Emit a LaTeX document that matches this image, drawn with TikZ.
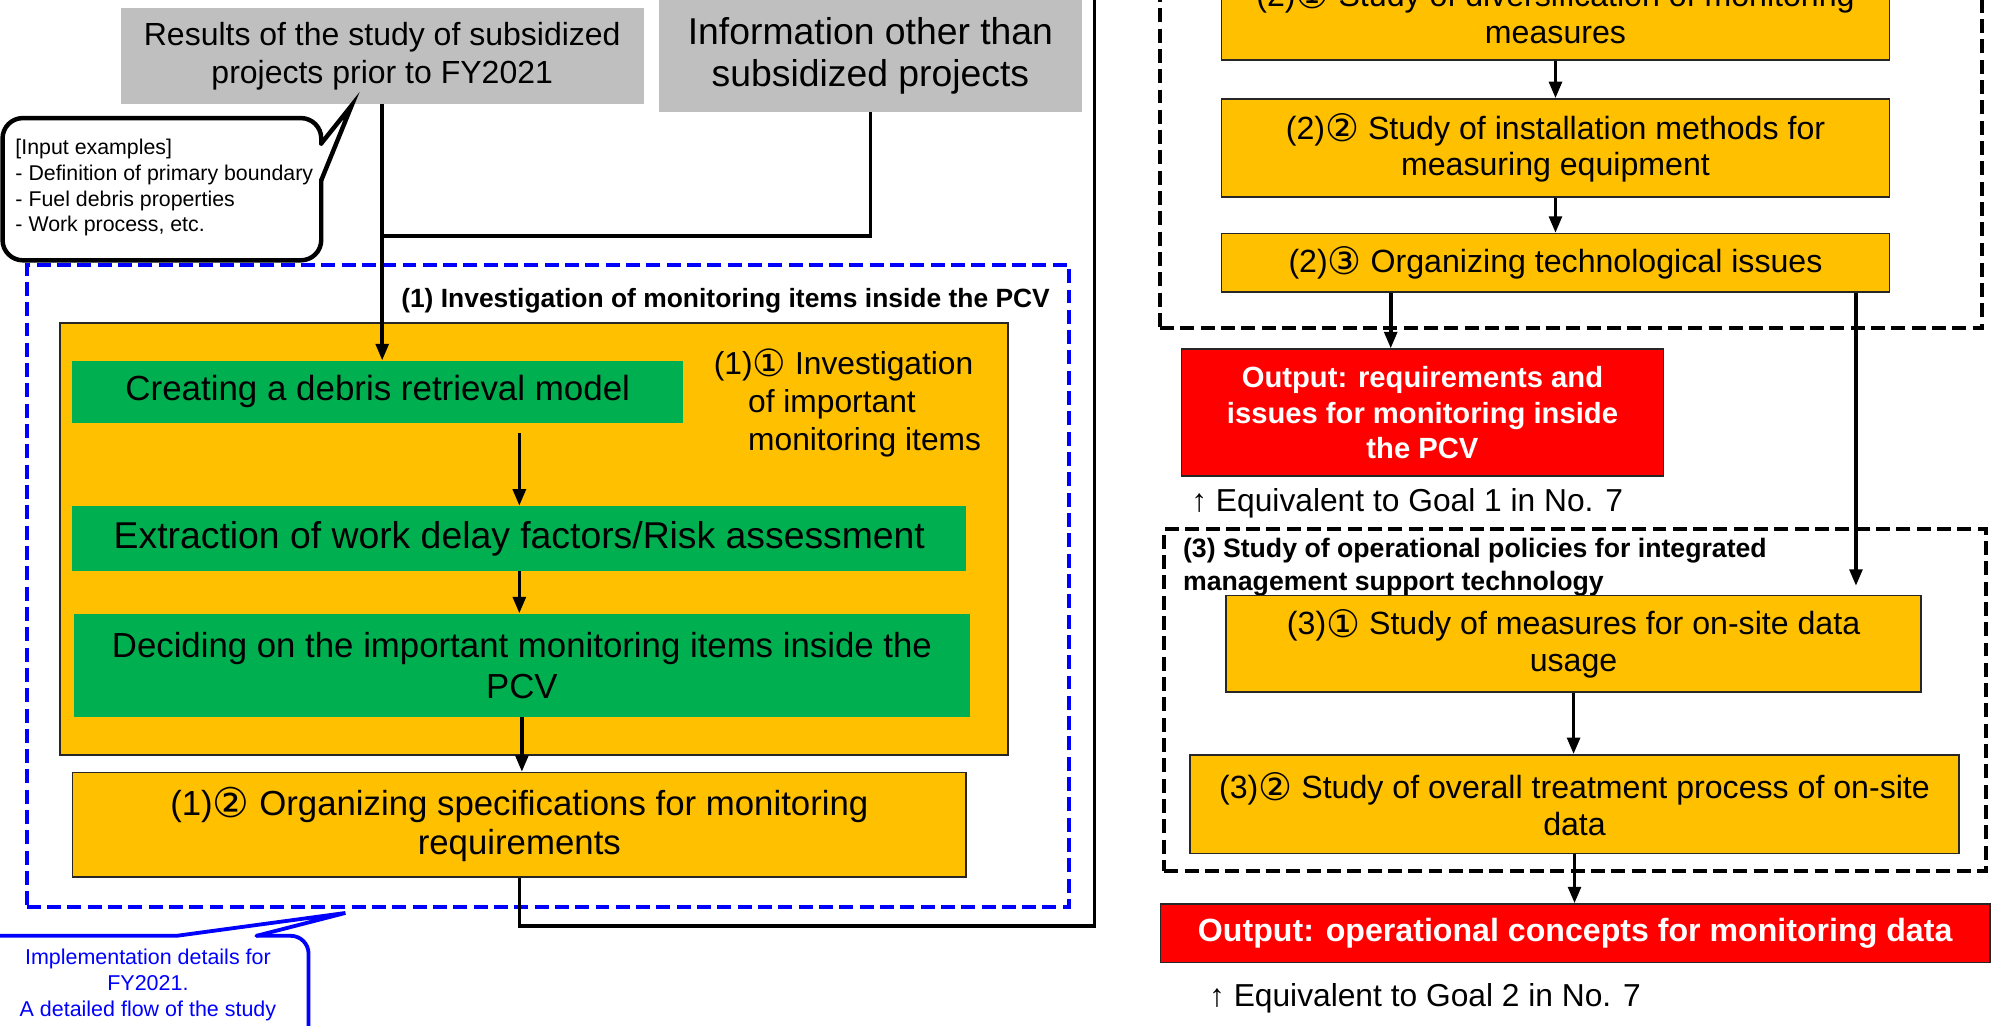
\documentclass[tikz,border=0pt]{standalone}
\usepackage{fontspec}
\setmainfont{Liberation Sans}
\newfontfamily\symfont{DejaVu Sans}
\usetikzlibrary{arrows.meta}
\newcommand\cnum[1]{{\symfont\raisebox{-0.07em}{\scalebox{1.18}{#1}}}}
\definecolor{boxorange}{HTML}{FFC000}
\definecolor{boxgreen}{HTML}{00B050}
\definecolor{boxgrey}{HTML}{BFBFBF}
\definecolor{boxred}{HTML}{FF0000}
\definecolor{calloutblue}{HTML}{0000FF}
\begin{document}
\begin{tikzpicture}[x=1pt,y=-1pt,
  base/.style={inner sep=0pt, align=center, text=black},
  sz/.style 2 args={minimum width=#1, minimum height=#2},
  fsz/.style 2 args={font=\fontsize{#1}{#2}\selectfont},
  bsz/.style 2 args={font=\fontsize{#1}{#2}\selectfont\bfseries},
  orangebox/.style={base, draw=black!85, line width=1.3pt, fill=boxorange},
  greenbox/.style={base, fill=boxgreen},
  greybox/.style={base, fill=boxgrey},
  redbox/.style={base, draw=black!85, line width=1.3pt, fill=boxred, text=white},
  link/.style={line width=2.8pt, black},
  arr/.style={link, -{Triangle[length=13pt,width=10pt]}},
  blackframe/.style={draw=black, line width=3pt, dash pattern=on 11pt off 5pt, inner sep=0pt},
  blueframe/.style={draw=calloutblue, line width=3pt, dash pattern=on 11pt off 5pt, inner sep=0pt},
]
\useasboundingbox (0,0) rectangle (1568,808);
\clip (0,0) rectangle (1568,808);
\fill[white] (0,0) rectangle (1568,808);

% ---------- left column: inputs ----------
\node[greybox, sz={412pt}{76pt}, fsz={25.2}{30}] (res) at (301,44)
  {Results of the study of subsidized\\projects prior to FY2021};
\node[greybox, sz={333pt}{88pt}, fsz={29.4}{33.5}] (info) at (685.5,44)
  {Information other than\\subsidized projects};

% speech bubble with input examples
\draw[line width=3.5pt, rounded corners=16pt, line cap=round]
  (253,113) -- (253,93) -- (2,93) -- (2,205) -- (253,205) -- (253,142);
\draw[line width=3.5pt, line join=miter, line cap=round]
  (253,113) -- (277,83) -- (253,142);
\node[anchor=west, align=left, inner sep=0pt, fsz={16.8}{20.2}] (inex) at (12,148)
  {[Input examples]\\- Definition of primary boundary\\- Fuel debris properties\\- Work process, etc.};

% ---------- block (1) ----------
\node[blueframe, sz={821pt}{505pt}] (grp1) at (431.5,461.5) {};
\node[anchor=east, inner sep=0pt, bsz={20.8}{25}] (t1) at (827,237)
  {(1) Investigation of monitoring items inside the PCV};
\node[orangebox, sz={747pt}{340pt}] (p11) at (420.5,424.5) {};
\node[anchor=west, align=left, inner sep=0pt, fsz={25}{30}] (lab11) at (589,317.5)
  {\hspace*{-27pt}(1)\cnum{①} Investigation\\of important\\monitoring items};
\node[greenbox, sz={481pt}{49pt}, fsz={27.5}{32}] (g1) at (297.5,308.5)
  {\raisebox{-3pt}{Creating a debris retrieval model}};
\node[greenbox, sz={704pt}{51pt}, fsz={29.4}{34}] (g2) at (409,424)
  {\raisebox{-2pt}{Extraction of work delay factors/Risk assessment}};
\node[greenbox, sz={706pt}{81.5pt}, fsz={27.4}{32}] (g3) at (411,524)
  {Deciding on the important monitoring items inside the\\PCV};
\node[orangebox, sz={704pt}{82pt}, fsz={27.4}{31}] (p12) at (409,649.5)
  {(1)\cnum{②} Organizing specifications for monitoring\\requirements};

% connectors of the left column
\draw[link] (info.south) -- (info.south |- 0,186) -- (res.south |- 0,186);
\draw[link] (res.south) -- (res.south |- 0,186);
\draw[arr] (res.south |- 0,186) -- (res.south |- g1.north);
\draw[arr] ([yshift=-8pt]g1.south -| g2.north) -- (g2.north);
\draw[arr] (g2.south) -- (g2.south |- g3.north);
\draw[arr] (g3.south) -- (g3.south |- p12.north);
\coordinate (ret) at (862,-20);
\draw[link, line join=miter] (p12.south) -- ++(0,38) -| (ret);

% callout below block (1)
\draw[calloutblue, line width=3pt, line join=miter, line cap=round]
  (-10,737) -- (139,737) -- (272,719) -- (202,737);
\draw[calloutblue, line width=3pt, rounded corners=14pt, line cap=round]
  (202,737) -- (243,737) -- (243,840);
\node[text=calloutblue, align=center, inner sep=0pt, fsz={16.9}{20.3}] (impl) at (116.5,775.5)
  {Implementation details for\\FY2021.\\A detailed flow of the study};

% ---------- block (2) ----------
\node[blackframe, sz={647.5pt}{270.5pt}] (grp2) at (1237.25,123.25) {};
\node[orangebox, sz={526pt}{75pt}, fsz={25.3}{29}] (n21) at (1225,9.5)
  {(2)\cnum{①} Study of diversification of monitoring\\measures};
\node[orangebox, sz={526pt}{77pt}, fsz={25.3}{29}] (n22) at (1225,116.5)
  {(2)\cnum{②} Study of installation methods for\\measuring equipment};
\node[orangebox, sz={526pt}{46pt}, fsz={25.3}{29}] (n23) at (1225,207)
  {(2)\cnum{③} Organizing technological issues};
\draw[arr] (n21.south) -- (n22.north);
\draw[arr] (n22.south) -- (n23.north);

\node[redbox, sz={379.5pt}{100pt}, bsz={23}{28}] (out1) at (1120.25,325)
  {Output: requirements and\\issues for monitoring inside\\the PCV};
\node[anchor=west, inner sep=0pt, fsz={25}{30}] (eq1) at (938,396)
  {↑ Equivalent to Goal 1 in No. 7};

% ---------- block (3) ----------
\node[blackframe, sz={647pt}{269.4pt}] (grp3) at (1240.5,551.3) {};
\node[anchor=west, align=left, inner sep=0pt, bsz={21}{26}] (t3) at (931.5,447)
  {(3) Study of operational policies for integrated\\management support technology};
\node[orangebox, sz={547.5pt}{76pt}, fsz={25.3}{29}] (n31) at (1239.25,507)
  {(3)\cnum{①} Study of measures for on-site data\\usage};
\node[orangebox, sz={606pt}{77.5pt}, fsz={25.3}{29}] (n32) at (1240,633.3)
  {(3)\cnum{②} Study of overall treatment process of on-site\\data};
\node[redbox, sz={653pt}{46pt}, bsz={25.3}{30}] (out2) at (1240.5,735)
  {Output: operational concepts for monitoring data};
\node[anchor=west, inner sep=0pt, fsz={25}{30}] (eq2) at (952,786)
  {↑ Equivalent to Goal 2 in No. 7};

% connectors of the right column
\draw[arr] ([xshift=-25pt]out1.north |- n23.south) -- ([xshift=-25pt]out1.north);
\draw[arr, shorten >=7pt] ([xshift=-27pt]n23.south east) -- ([xshift=-27pt]n23.south east |- n31.north);
\draw[arr] (n31.south) -- (n31.south |- n32.north);
\draw[arr] (n32.south) -- (n32.south |- out2.north);
\end{tikzpicture}
\end{document}
